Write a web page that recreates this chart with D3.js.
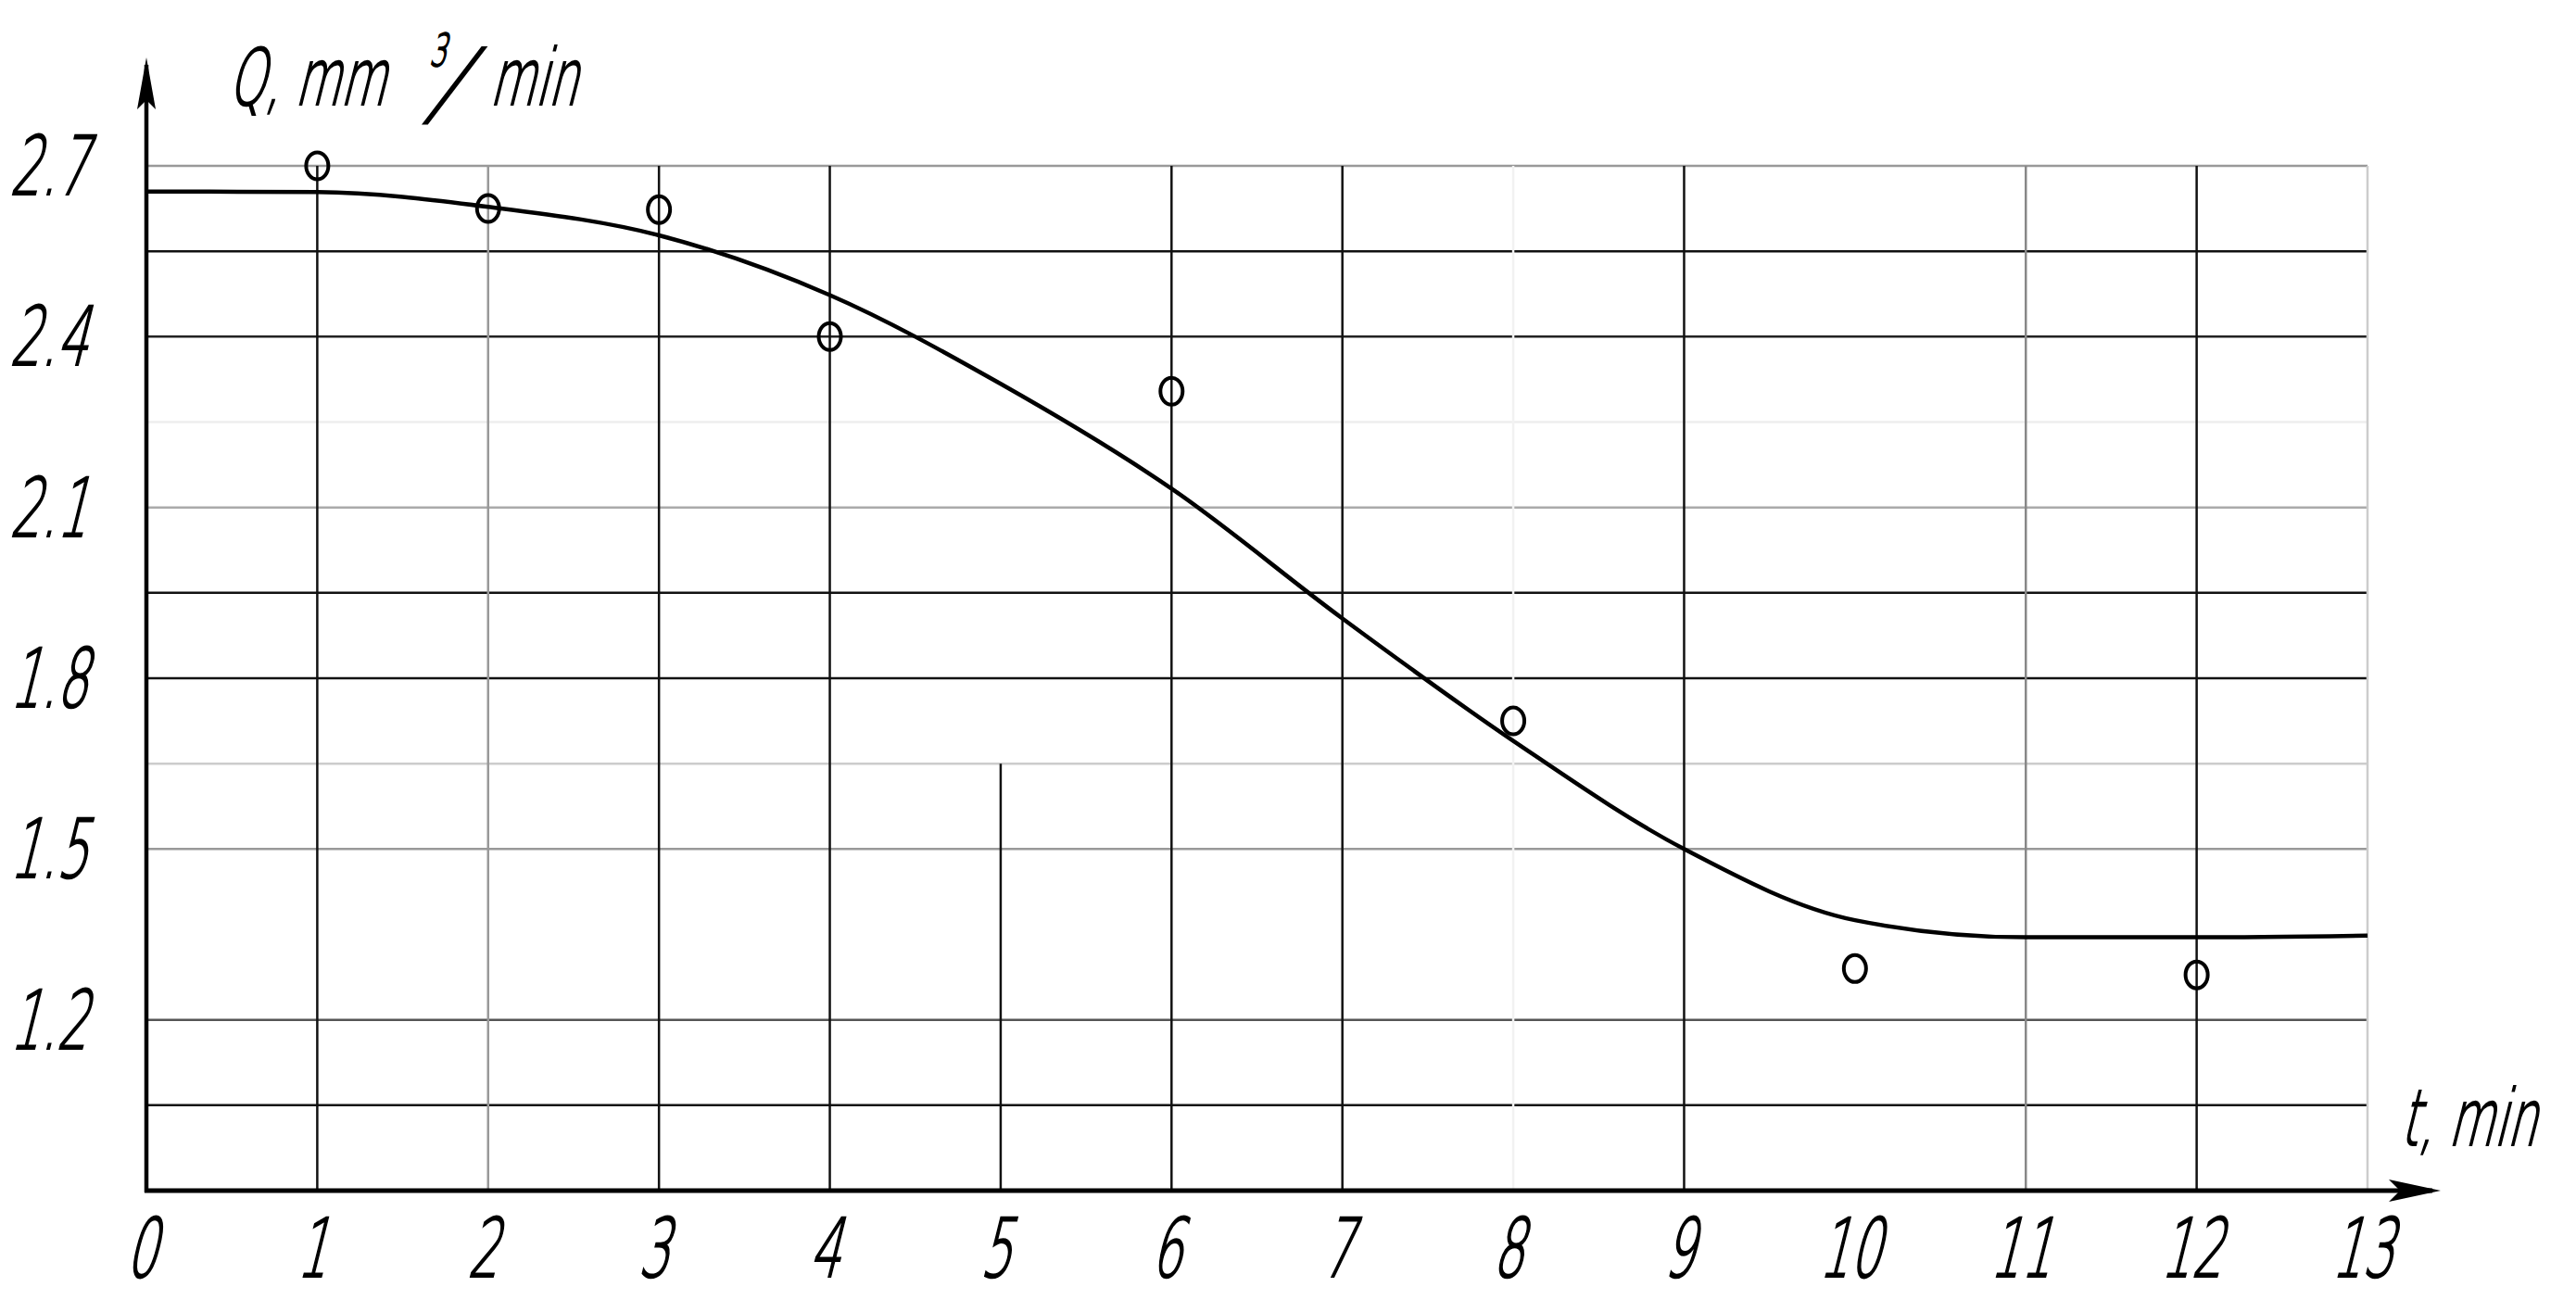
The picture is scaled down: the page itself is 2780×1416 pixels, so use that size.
<!DOCTYPE html>
<html>
<head>
<meta charset="utf-8">
<script src="https://cdn.jsdelivr.net/npm/d3@7"></script>
<style>
  html, body { margin: 0; padding: 0; background: #fff; }
  svg { display: block; }
  .lbl { font-family: "DejaVu Sans", "Liberation Sans", sans-serif; font-weight: 200; fill: #000; stroke: #000; stroke-width: 2.2; }
</style>
</head>
<body>
<div id="chart"></div>
<script>
// measured points (circles)
var measT = [1, 2, 3, 4, 6, 8, 10, 12];
var measQ = [2.70, 2.625, 2.623, 2.40, 2.304, 1.725, 1.29, 1.279];

// fitted curve
var fitT = [0, 1, 2, 3, 4, 5, 6, 7, 8, 9, 10, 11, 12, 13];
var fitQ = [2.655, 2.654, 2.628, 2.578, 2.473, 2.317, 2.133, 1.905, 1.69, 1.50, 1.375, 1.345, 1.345, 1.348];

// tick labels
var xTicks = [0, 1, 2, 3, 4, 5, 6, 7, 8, 9, 10, 11, 12, 13];
var yTicks = [1.2, 1.5, 1.8, 2.1, 2.4, 2.7];
var yGrid = [1.05, 1.2, 1.35, 1.5, 1.65, 1.8, 1.95, 2.1, 2.25, 2.4, 2.55, 2.7];
var yTitle = "Q, mm";
var yTitleSup = "3";
var yTitleTail = "min";
var xTitle = "t, min";

var W = 2780, H = 1416;
var x = d3.scaleLinear().domain([0, 13]).range([158, 2555]);
var y = d3.scaleLinear().domain([0.9, 2.7]).range([1285, 179]);

// the drawing is a scanned sheet, grid lines come in different shades
var hShade = {"1.05": "#111", "1.2": "#555", "1.35": "none", "1.5": "#999", "1.65": "#ccc",
              "1.8": "#111", "1.95": "#111", "2.1": "#aaa", "2.25": "#eee", "2.4": "#222",
              "2.55": "#111", "2.7": "#999"};
var vShade = ["none", "#111", "#999", "#111", "#111", "#111", "#111", "#111", "#f2f2f2",
              "#111", "none", "#888", "#111", "#ccc"];

var svg = d3.select("#chart").append("svg")
    .attr("width", W).attr("height", H);

svg.append("rect").attr("width", W).attr("height", H).attr("fill", "#fff");

var grid = svg.append("g").attr("class", "grid");

grid.selectAll(".hg")
  .data(yGrid)
  .enter().append("line")
    .attr("class", "hg")
    .attr("x1", x(0)).attr("x2", x(13))
    .attr("y1", function(d){ return y(d); })
    .attr("y2", function(d){ return y(d); })
    .attr("stroke", function(d){ return hShade[String(d)]; })
    .attr("stroke-width", 2.5);

grid.selectAll(".vg")
  .data(xTicks.filter(function(d){ return d > 0 && d !== 5; }))
  .enter().append("line")
    .attr("class", "vg")
    .attr("x1", function(d){ return x(d); })
    .attr("x2", function(d){ return x(d); })
    .attr("y1", y(2.7)).attr("y2", y(0.9))
    .attr("stroke", function(d){ return vShade[d]; })
    .attr("stroke-width", 2.5);

// short line at t = 5
grid.append("line")
    .attr("x1", x(5)).attr("x2", x(5))
    .attr("y1", y(1.65)).attr("y2", y(0.9))
    .attr("stroke", "#111").attr("stroke-width", 2.5);

// axes with arrows
var axes = svg.append("g").attr("class", "axes");
axes.append("line")
    .attr("x1", x(0)).attr("x2", x(0))
    .attr("y1", 70).attr("y2", y(0.9) + 2)
    .attr("stroke", "#000").attr("stroke-width", 4.5);
axes.append("line")
    .attr("x1", x(0) - 2).attr("x2", 2625)
    .attr("y1", y(0.9)).attr("y2", y(0.9))
    .attr("stroke", "#000").attr("stroke-width", 5);
axes.append("path")
    .attr("d", "M" + x(0) + ",62 L" + (x(0) - 10) + ",118 L" + x(0) + ",108 L" + (x(0) + 10) + ",118 Z")
    .attr("fill", "#000");
axes.append("path")
    .attr("d", "M2634," + y(0.9) + " L2578," + (y(0.9) - 12) + " L2590," + y(0.9) + " L2578," + (y(0.9) + 12) + " Z")
    .attr("fill", "#000");

// fitted curve
var line = d3.line()
    .x(function(d){ return x(d[0]); })
    .y(function(d){ return y(d[1]); })
    .curve(d3.curveMonotoneX);

svg.append("path")
    .datum(fitT.map(function(t, i){ return [t, fitQ[i]]; }))
    .attr("d", line)
    .attr("fill", "none")
    .attr("stroke", "#000")
    .attr("stroke-width", 4.5);

// measured points
svg.selectAll(".pt")
  .data(measT.map(function(t, i){ return [t, measQ[i]]; }))
  .enter().append("ellipse")
    .attr("class", "pt")
    .attr("cx", function(d){ return x(d[0]); })
    .attr("cy", function(d){ return y(d[1]); })
    .attr("rx", 12).attr("ry", 14.5)
    .attr("fill", "none")
    .attr("stroke", "#000")
    .attr("stroke-width", 4);

// slanted narrow lettering, like the drafting font
function label(px, py, str, anchor, size, skew, sx){
  var g = svg.append("g").attr("transform", "translate(" + px + "," + py + ")");
  g.append("text")
    .attr("class", "lbl")
    .attr("text-anchor", anchor)
    .attr("font-size", size)
    .attr("transform", "skewX(" + (skew || -14) + ") scale(" + (sx || 0.6) + ",1)")
    .text(str);
  return g;
}

yTicks.forEach(function(v){
  label(94, y(v) + 31, v.toFixed(1), "end", 88);
});
xTicks.forEach(function(t){
  label(x(t) - 6, 1378, String(t), "middle", 88);
});

label(246, 113, yTitle, "start", 84);
label(463, 71, yTitleSup, "start", 48);
label(460, 124, "/", "start", 100, -26, 0.9);
label(528, 113, yTitleTail, "start", 84);
label(2590, 1236, xTitle, "start", 84);
</script>
</body>
</html>
